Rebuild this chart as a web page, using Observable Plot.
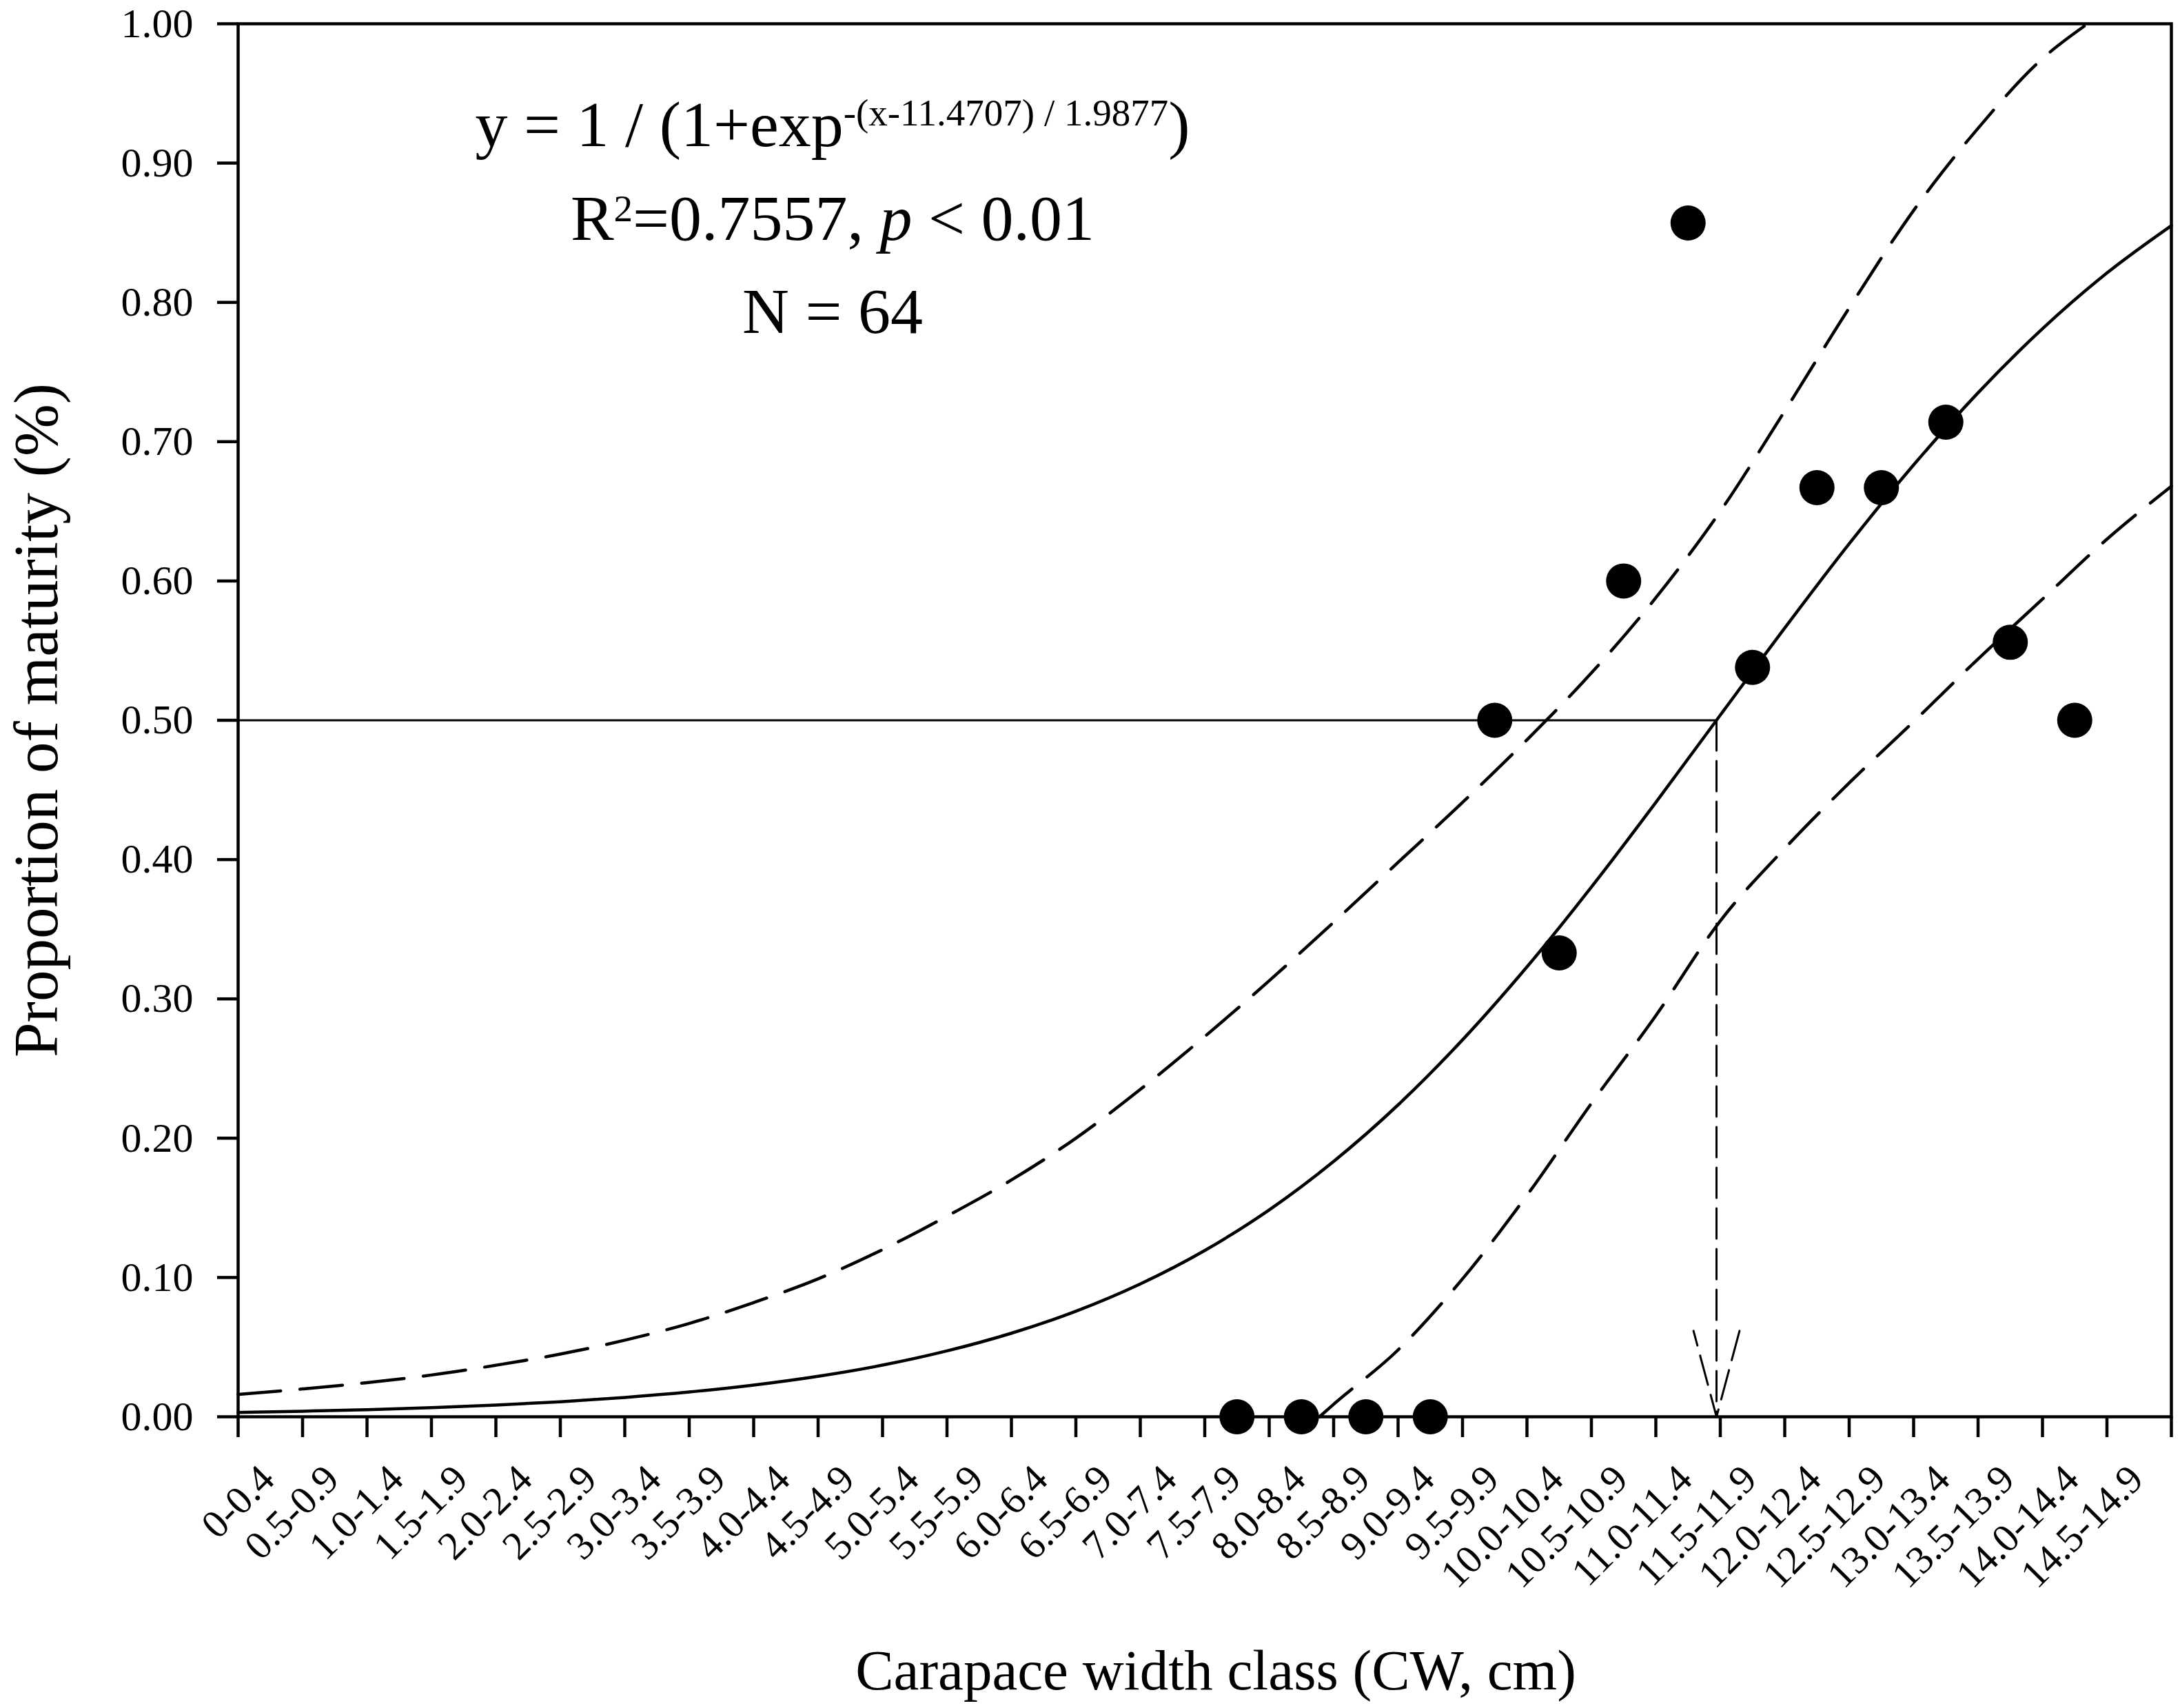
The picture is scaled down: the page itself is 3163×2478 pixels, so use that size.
<!DOCTYPE html>
<html>
<head>
<meta charset="utf-8">
<script src="https://cdn.jsdelivr.net/npm/d3@7"></script>
<script src="https://cdn.jsdelivr.net/npm/@observablehq/plot@0.6"></script>
<style>
  html, body { margin: 0; padding: 0; background: #ffffff; }
</style>
</head>
<body>
<div id="chart"></div>
<script>
// ---- Carapace width classes (labels) and their midpoints (cm)
const classLabels = ["0-0.4","0.5-0.9","1.0-1.4","1.5-1.9","2.0-2.4","2.5-2.9","3.0-3.4","3.5-3.9",
  "4.0-4.4","4.5-4.9","5.0-5.4","5.5-5.9","6.0-6.4","6.5-6.9","7.0-7.4","7.5-7.9","8.0-8.4",
  "8.5-8.9","9.0-9.4","9.5-9.9","10.0-10.4","10.5-10.9","11.0-11.4","11.5-11.9","12.0-12.4",
  "12.5-12.9","13.0-13.4","13.5-13.9","14.0-14.4","14.5-14.9"];
const classMid = [0.25,0.75,1.25,1.75,2.25,2.75,3.25,3.75,4.25,4.75,5.25,5.75,6.25,6.75,7.25,
  7.75,8.25,8.75,9.25,9.75,10.25,10.75,11.25,11.75,12.25,12.75,13.25,13.75,14.25,14.75];
const xTickValues = [0,0.5,1,1.5,2,2.5,3,3.5,4,4.5,5,5.5,6,6.5,7,7.5,8,8.5,9,9.5,10,10.5,11,
  11.5,12,12.5,13,13.5,14,14.5,15];
const yTickValues = [0,0.1,0.2,0.3,0.4,0.5,0.6,0.7,0.8,0.9,1.0];

// ---- Observed proportion of mature individuals per class
const dotX = [7.75,8.25,8.75,9.25,9.75,10.25,10.75,11.25,11.75,12.25,12.75,13.25,13.75,14.25];
const dotY = [0,0,0,0,0.5,0.333,0.6,0.857,0.538,0.667,0.667,0.714,0.556,0.5];

// ---- Fitted logistic curve
const fitX = [0,0.5,1,1.5,2,2.5,3,3.5,4,4.5,5,5.5,6,6.5,7,7.5,8,8.5,9,9.5,10,10.5,11,11.5,12,
  12.5,13,13.5,14,14.5,15];
const fitY = [0.0031,0.0040,0.0051,0.0066,0.0084,0.0108,0.0139,0.0178,0.0228,0.0291,0.0371,
  0.0473,0.0600,0.0758,0.0954,0.1194,0.1485,0.1833,0.2239,0.2706,0.3230,0.3803,0.4411,0.5037,
  0.5662,0.6267,0.6833,0.7351,0.7811,0.8211,0.8551];

// ---- Upper confidence band (dashed)
const upperX = [0,0.5,1,1.5,2,2.5,3,3.5,4,4.5,5,5.5,6,6.5,7,7.5,8,8.5,9,9.5,10,10.5,11,11.5,
  12,12.5,13,13.5,14,14.35];
const upperY = [0.016,0.020,0.0245,0.030,0.037,0.045,0.055,0.067,0.082,0.099,0.120,0.144,0.170,
  0.200,0.235,0.273,0.313,0.355,0.398,0.441,0.486,0.534,0.588,0.650,0.722,0.796,0.866,0.925,
  0.975,1.0];

// ---- Lower confidence band (dashed)
const lowerX = [8.39,8.5,9,9.5,10,10.5,11,11.5,12,12.5,13,13.5,14,14.5,15];
const lowerY = [0,0.009,0.048,0.099,0.159,0.225,0.288,0.356,0.408,0.455,0.499,0.544,0.587,0.630,0.668];

// ---- Size at 50% maturity
const L50 = 11.4707;
const halfLevel = 0.5;

// ---- Texts
const annotLines = ["y = 1 / (1+exp-(x-11.4707) / 1.9877)", "R2=0.7557, p < 0.01", "N = 64"];
const annotRich = [
  [["y = 1 / (1+exp", ""], ["-(x-11.4707) / 1.9877", "sup"], [")", ""]],
  [["R", ""], ["2", "sup2"], ["=0.7557, ", ""], ["p", "it"], [" < 0.01", ""]],
  [["N = 64", ""]]
];
const xTitle = "Carapace width class (CW, cm)";
const yTitle = "Proportion of maturity (%)";

const pts = (X, Y) => X.map((x, i) => ({x, y: Y[i]}));

const chart = Plot.plot({
  width: 3163,
  height: 2478,
  marginLeft: 345,
  marginRight: 13,
  marginTop: 34,
  marginBottom: 423,
  x: {domain: [0, 15]},
  y: {domain: [0, 1]},
  style: {fontFamily: "'Liberation Serif', 'Times New Roman', serif", background: "#ffffff", color: "#000000"},
  marks: [
    Plot.axisY({ticks: yTickValues, tickFormat: ".2f", tickSize: 30, tickPadding: 35,
      fontSize: 60, strokeWidth: 4.5, label: null}),
    Plot.axisX({ticks: xTickValues, tickFormat: () => "", tickSize: 30, strokeWidth: 4.5, label: null}),
    Plot.text(classLabels, {x: classMid, frameAnchor: "bottom", dx: 9, dy: 94, rotate: -45,
      textAnchor: "end", lineAnchor: "bottom", fontSize: 58}),
    Plot.line(pts(upperX, upperY), {x: "x", y: "y", curve: "monotone-x", stroke: "#000",
      strokeWidth: 4.5, strokeDasharray: "62 28"}),
    Plot.line(pts(lowerX, lowerY), {x: "x", y: "y", curve: "monotone-x", stroke: "#000",
      strokeWidth: 4.5, strokeDasharray: "62 28"}),
    Plot.line(pts(fitX, fitY), {x: "x", y: "y", curve: "monotone-x", stroke: "#000", strokeWidth: 4.5}),
    Plot.link([{x1: 0, x2: L50, y: halfLevel}], {x1: "x1", x2: "x2", y1: "y", y2: "y",
      stroke: "#000", strokeWidth: 3}),
    Plot.arrow([{x: L50, y1: halfLevel, y2: 0}], {x: "x", y1: "y1", y2: "y2", stroke: "#000",
      strokeWidth: 3, strokeDasharray: "44 15", headLength: 64.5, headAngle: 30}),
    Plot.frame({stroke: "#000", strokeWidth: 4.5}),
    Plot.dot(pts(dotX, dotY), {x: "x", y: "y", r: 25.5, fill: "#000", stroke: "none"}),
    Plot.text([annotLines[0]], {frameAnchor: "top", dx: -540, dy: 177, lineAnchor: "bottom", fontSize: 94}),
    Plot.text([annotLines[1]], {frameAnchor: "top", dx: -540, dy: 313, lineAnchor: "bottom", fontSize: 94}),
    Plot.text([annotLines[2]], {frameAnchor: "top", dx: -540, dy: 448, lineAnchor: "bottom", fontSize: 94}),
    Plot.text([yTitle], {frameAnchor: "left", dx: -263, rotate: -90, textAnchor: "middle",
      lineAnchor: "bottom", fontSize: 91}),
    Plot.text([xTitle], {frameAnchor: "bottom", dx: 16, dy: 395, lineAnchor: "bottom", fontSize: 83})
  ]
});

// Rich formatting (superscripts, italic) for the annotation
const NS = "http://www.w3.org/2000/svg";
d3.select(chart).selectAll("text").each(function () {
  const idx = annotLines.indexOf(this.textContent);
  if (idx < 0) return;
  const segs = annotRich[idx];
  while (this.firstChild) this.removeChild(this.firstChild);
  let shift = 0;
  segs.forEach(([s, kind]) => {
    const t = document.createElementNS(NS, "tspan");
    t.textContent = s;
    let target = 0;
    if (kind === "sup") { t.setAttribute("font-size", 55); target = -30; }
    else if (kind === "sup2") { t.setAttribute("font-size", 55); target = -27; }
    else if (kind === "it") { t.setAttribute("font-style", "italic"); }
    const d = target - shift;
    if (d !== 0) t.setAttribute("dy", d);
    shift = target;
    this.appendChild(t);
  });
});

document.getElementById("chart").appendChild(chart);
</script>
</body>
</html>
